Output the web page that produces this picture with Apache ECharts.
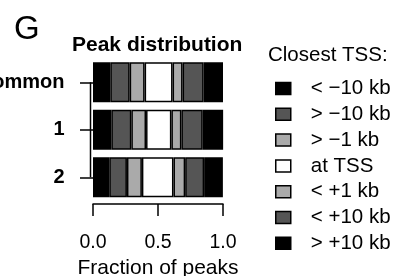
<!DOCTYPE html>
<html>
<head>
<meta charset="utf-8">
<script src="https://cdn.jsdelivr.net/npm/echarts@6/dist/echarts.min.js"></script>
<style>
  html, body { margin: 0; padding: 0; background: #fff; }
  #chart { width: 396px; height: 276px; }
</style>
</head>
<body>
<div id="chart"></div>
<script>
// groups shown on the y axis, top to bottom
const groups = ['Common', '1', '2'];
const xTicks = [0, 0.5, 1];

// fraction of peaks in each distance class, per group
const segNames = ['< \u221210 kb', '> \u221210 kb', '> \u22121 kb', 'at TSS', '< +1 kb', '< +10 kb', '> +10 kb'];
const segColors = ['#000000', '#555555', '#aaaaaa', '#ffffff', '#aaaaaa', '#555555', '#000000'];
const farUp   = [0.133, 0.141, 0.125];
const midUp   = [0.149, 0.154, 0.136];
const nearUp  = [0.115, 0.113, 0.115];
const atTss   = [0.215, 0.195, 0.243];
const nearDn  = [0.077, 0.077, 0.090];
const midDn   = [0.162, 0.164, 0.146];
const farDn   = [0.149, 0.157, 0.144];
const segValues = [farUp, midUp, nearUp, atTss, nearDn, midDn, farDn];

const font = "'Liberation Sans', Arial, sans-serif";

const chart = echarts.init(document.getElementById('chart'));

const series = segNames.map((name, i) => ({
    name: name,
    type: 'bar',
    stack: 'total',
    barWidth: 40,
    data: segValues[i],
    itemStyle: { color: segColors[i], borderColor: '#000', borderWidth: 1.5 },
    emphasis: { disabled: true },
    animation: false
}));

const option = {
    animation: false,
    title: [
        { text: 'G', left: 14, top: 13, padding: 0, textStyle: { fontFamily: font, fontSize: 33, fontWeight: 'normal', color: '#000' } },
        { text: 'Peak distribution', left: 72, top: 34.5, padding: 0, textStyle: { fontFamily: font, fontSize: 21, fontWeight: 'bold', color: '#000' } },
        { text: 'Closest TSS:', left: 268, top: 45, padding: 0, textStyle: { fontFamily: font, fontSize: 20.5, fontWeight: 'normal', color: '#000' } }
    ],
    legend: {
        orient: 'vertical',
        left: 275,
        top: 78,
        padding: 0,
        itemWidth: 15,
        itemHeight: 12,
        itemGap: 4.8,
        icon: 'rect',
        selectedMode: false,
        data: segNames,
        itemStyle: { borderColor: '#000', borderWidth: 1.5 },
        textStyle: { fontFamily: font, fontSize: 20.5, lineHeight: 20, color: '#000', padding: [0, 0, 0, 15] }
    },
    grid: { left: 93, right: 173, top: 58.5, height: 142.5, containLabel: false, outerBoundsMode: 'none' },
    xAxis: {
        type: 'value',
        min: 0,
        max: 1,
        interval: 0.5,
        offset: 3,
        splitLine: { show: false },
        axisLine: { show: true, lineStyle: { color: '#000', width: 1.5 } },
        axisTick: { show: true, length: 12, lineStyle: { color: '#000', width: 1.5 } },
        axisLabel: { margin: 29, fontFamily: font, fontSize: 19.5, color: '#000', formatter: v => v.toFixed(1) },
        name: 'Fraction of peaks',
        nameLocation: 'middle',
        nameGap: 44,
        nameTextStyle: { fontFamily: font, fontSize: 21, color: '#000' }
    },
    yAxis: {
        type: 'category',
        data: groups,
        inverse: true,
        offset: 2.5,
        axisLine: { show: false },
        axisTick: { show: true, length: 13, alignWithLabel: true, lineStyle: { color: '#000', width: 1.5 } },
        axisLabel: { margin: 26, fontFamily: font, fontSize: 20, fontWeight: 'bold', color: '#000' }
    },
    series: series
};

chart.setOption(option);

// R-style y axis line: runs from the first tick to the last tick only
const xLine = chart.convertToPixel({ xAxisIndex: 0 }, 0) - 2.5;
const yTop = chart.convertToPixel({ yAxisIndex: 0 }, groups[0]);
const yBot = chart.convertToPixel({ yAxisIndex: 0 }, groups[groups.length - 1]);
chart.setOption({
    graphic: [{
        type: 'line',
        shape: { x1: xLine, y1: yTop, x2: xLine, y2: yBot },
        style: { stroke: '#000', lineWidth: 1.5 },
        silent: true
    }]
});
</script>
</body>
</html>
